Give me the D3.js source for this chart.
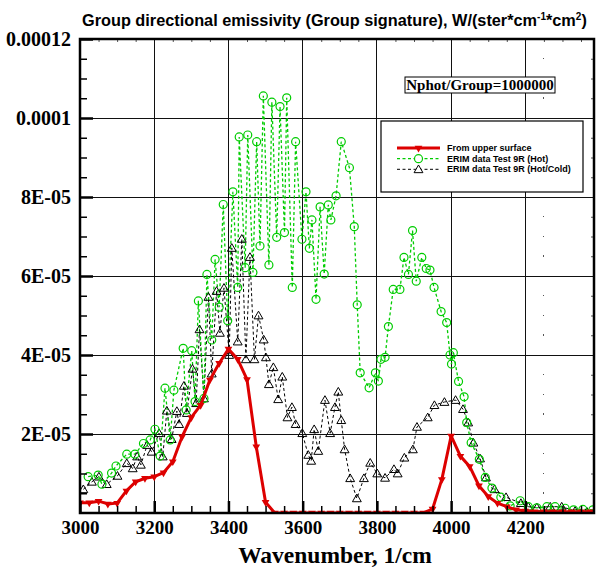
<!DOCTYPE html>
<html>
<head>
<meta charset="utf-8">
<script src="https://cdn.jsdelivr.net/npm/d3@7"></script>
<style>
  body { margin: 0; background: #fff; }
  svg { display: block; }
</style>
</head>
<body>
<svg></svg>
<script>
// values are in units of 1E-05 W/(ster*cm-1*cm2)
const redWn = [3000, 3025, 3050, 3075, 3100, 3125, 3150, 3175, 3200, 3225, 3250, 3275, 3300, 3325, 3350, 3375, 3400, 3425, 3450, 3475,
  3500, 3525, 3550, 3575, 3600, 3625, 3650, 3675, 3700, 3725, 3750, 3775, 3800, 3825, 3850, 3875, 3900, 3925, 3950, 3975,
  4000, 4025, 4050, 4075, 4100, 4125, 4150, 4175, 4200, 4225, 4250, 4275, 4300, 4325, 4350, 4375];
const redVal = [0.26, 0.26, 0.30, 0.23, 0.25, 0.56, 0.79, 0.88, 0.92, 1.02, 1.30, 1.93, 2.42, 2.73, 3.37, 3.79, 4.15, 3.89, 3.38, 1.68,
  0.27, 0, 0, 0, 0, 0, 0, 0, 0, 0, 0, 0, 0, 0, 0, 0, 0, 0, 0.10, 0.85,
  1.95, 1.44, 1.18, 0.69, 0.42, 0.25, 0.16, 0.08, 0.05, 0.03, 0.03, 0.03, 0.03, 0.03, 0.03, 0.03];

const hotWn = [3022, 3049, 3059, 3085, 3097, 3126, 3148, 3171, 3189, 3202, 3216, 3229, 3243, 3253, 3278, 3286, 3301, 3310, 3319, 3334,
  3342, 3355, 3364, 3375, 3386, 3398, 3412, 3425, 3429, 3445, 3452, 3466, 3476, 3485, 3494, 3509, 3517, 3530, 3539, 3551,
  3557, 3572, 3581, 3598, 3609, 3618, 3625, 3636, 3647, 3658, 3669, 3676, 3690, 3704, 3726, 3739, 3747, 3755, 3779, 3796,
  3804, 3811, 3822, 3831, 3844, 3862, 3873, 3885, 3896, 3906, 3921, 3933, 3943, 3954, 3973, 3988, 3997, 4001, 4006, 4020,
  4035, 4042, 4054, 4076, 4092, 4110, 4134, 4159, 4186, 4208, 4231, 4258, 4280, 4307, 4330, 4355, 4382];
const hotVal = [0.92, 0.96, 0.73, 1.01, 1.19, 1.49, 1.49, 1.76, 1.85, 2.12, 1.44, 3.16, 1.85, 3.11, 4.17, 2.61, 4.11, 2.82, 5.37, 2.90,
  6.04, 4.38, 6.42, 5.21, 7.81, 4.87, 8.13, 5.71, 9.52, 6.21, 9.57, 6.09, 9.40, 6.76, 10.56, 6.28, 10.40, 6.98, 10.29, 7.10,
  10.51, 5.71, 9.40, 6.93, 8.13, 6.70, 7.42, 5.41, 7.75, 6.05, 7.80, 7.42, 8.03, 9.40, 8.74, 7.25, 5.27, 3.55, 3.17, 3.55,
  3.34, 3.89, 3.94, 4.72, 5.66, 5.66, 6.47, 6.04, 7.15, 5.87, 6.47, 6.19, 6.15, 5.71, 5.10, 4.82, 4.00, 3.77, 4.06, 3.33,
  2.94, 2.29, 1.78, 1.36, 0.90, 0.63, 0.40, 0.18, 0.31, 0.16, 0.13, 0.16, 0.16, 0.12, 0.08, 0.09, 0.08];

const coldWn = [3009, 3032, 3051, 3072, 3101, 3126, 3142, 3154, 3164, 3181, 3193, 3213, 3223, 3234, 3247, 3261, 3267, 3280, 3288, 3303,
  3313, 3322, 3334, 3346, 3355, 3368, 3377, 3388, 3402, 3409, 3425, 3436, 3447, 3458, 3470, 3481, 3495, 3501, 3509, 3521,
  3534, 3545, 3559, 3571, 3581, 3599, 3615, 3623, 3631, 3642, 3660, 3674, 3687, 3696, 3704, 3713, 3728, 3746, 3765, 3782,
  3801, 3822, 3846, 3856, 3874, 3897, 3908, 3937, 3955, 3982, 4012, 4032, 4046, 4060, 4078, 4094, 4117, 4148, 4188, 4208,
  4231, 4267, 4298, 4334, 4366];
const coldVal = [0.60, 0.79, 0.92, 0.73, 0.94, 1.26, 1.13, 1.43, 1.22, 1.72, 1.55, 2.02, 1.43, 2.59, 1.87, 2.58, 2.25, 3.22, 2.53, 3.65,
  2.78, 4.65, 2.90, 5.47, 3.53, 5.62, 4.56, 5.70, 4.00, 6.71, 4.34, 6.94, 3.89, 6.48, 3.89, 5.00, 4.39, 3.94, 3.26, 3.69,
  2.88, 3.45, 2.42, 2.68, 2.25, 2.02, 1.47, 1.32, 2.12, 1.57, 2.86, 2.02, 2.68, 3.07, 2.35, 1.61, 0.88, 0.37, 0.88, 1.27,
  1.00, 0.89, 1.11, 1.00, 1.40, 1.61, 2.18, 2.42, 2.73, 2.81, 2.86, 2.63, 2.29, 1.78, 1.38, 0.90, 0.60, 0.40, 0.25, 0.16,
  0.14, 0.16, 0.16, 0.05, 0.03];

const xTickLabels = ["3000", "3200", "3400", "3600", "3800", "4000", "4200"];
const yTickValues = [2, 4, 6, 8, 10, 12];
const yTickLabels = ["2E-05", "4E-05", "6E-05", "8E-05", "0.0001", "0.00012"];
const seriesNames = ["From upper surface", "ERIM data Test 9R (Hot)", "ERIM data Test 9R (Hot/Cold)"];

const width = 596, height = 567;
const pLeft = 80, pRight = 594, pTop = 39, pBottom = 513;
const red = "#dd0000", green = "#00cc00", serif = "'Liberation Serif', 'Times New Roman', serif",
  sans = "'Liberation Sans', Arial, sans-serif";

const svg = d3.select("svg").attr("width", width).attr("height", height);

const x = d3.scaleLinear().domain([3000, 4385]).range([pLeft, pRight]);
const y = d3.scaleLinear().domain([0, 12]).range([pBottom, pTop]);

const xTicks = xTickLabels.map(Number);
const xMinor = d3.range(3050, 4385, 50).filter(d => d % 200 !== 0);
const yMinor = d3.range(0.5, 12, 0.5).filter(d => d % 2 !== 0);

svg.append("defs").append("clipPath").attr("id", "plot")
  .append("rect").attr("x", pLeft).attr("y", pTop).attr("width", pRight - pLeft).attr("height", pBottom - pTop);

// grid
const grid = svg.append("g").attr("shape-rendering", "crispEdges");
grid.selectAll(".vx").data(xTicks.slice(1)).enter().append("line")
  .attr("x1", d => x(d)).attr("x2", d => x(d)).attr("y1", pTop).attr("y2", pBottom)
  .attr("stroke", "#111").attr("stroke-width", 1);
grid.selectAll(".hy").data(yTickValues.slice(0, -1)).enter().append("line")
  .attr("x1", pLeft).attr("x2", pRight).attr("y1", d => y(d)).attr("y2", d => y(d))
  .attr("stroke", "#111").attr("stroke-width", 1);

// stray dotted column of the original
grid.selectAll(".dot").data(yMinor).enter().append("rect")
  .attr("x", x(4250) - 1).attr("y", d => y(d) - 1).attr("width", 1.5).attr("height", 1.5).attr("fill", "#555");

// data
const plot = svg.append("g").attr("clip-path", "url(#plot)");

const redPts = redWn.map((w, i) => [w, redVal[i]]);
const hotPts = hotWn.map((w, i) => [w, hotVal[i]]);
const coldPts = coldWn.map((w, i) => [w, coldVal[i]]);
const line = d3.line().x(d => x(d[0])).y(d => y(d[1]));

plot.append("path").datum(coldPts).attr("d", line)
  .attr("fill", "none").attr("stroke", "#000").attr("stroke-width", 1).attr("stroke-dasharray", "3,2.5");
plot.append("path").datum(hotPts).attr("d", line)
  .attr("fill", "none").attr("stroke", green).attr("stroke-width", 1.3).attr("stroke-dasharray", "3,2.5");

const tri = d3.symbol().type(d3.symbolTriangle).size(34);
plot.selectAll(".cold").data(coldPts).enter().append("path")
  .attr("d", tri).attr("transform", d => `translate(${x(d[0])},${y(d[1]) + 0.8})`)
  .attr("fill", "none").attr("stroke", "#000").attr("stroke-width", 1);
plot.selectAll(".hot").data(hotPts).enter().append("circle")
  .attr("cx", d => x(d[0])).attr("cy", d => y(d[1])).attr("r", 4)
  .attr("fill", "none").attr("stroke", green).attr("stroke-width", 1.2);

plot.append("path").datum(redPts).attr("d", line)
  .attr("fill", "none").attr("stroke", red).attr("stroke-width", 3).attr("stroke-linejoin", "round");
const downTri = d3.symbol().type(d3.symbolTriangle).size(26);
plot.selectAll(".red").data(redPts).enter().append("path")
  .attr("d", downTri).attr("transform", d => `translate(${x(d[0])},${y(d[1])}) rotate(180)`)
  .attr("fill", red);

// axes
function styleAxis(g, w, fs) {
  g.select(".domain").remove();
  g.selectAll("line").attr("stroke", "#000").attr("stroke-width", w);
  g.selectAll("text").attr("font-family", serif).attr("font-weight", "bold").attr("font-size", fs).attr("fill", "#000");
}
svg.append("g").attr("transform", `translate(0,${pBottom})`)
  .call(d3.axisBottom(x).tickValues(xMinor).tickSize(-7).tickFormat(""))
  .call(g => styleAxis(g, 1.5, 19));
svg.append("g").attr("transform", `translate(0,${pBottom})`)
  .call(d3.axisBottom(x).tickValues(xTicks).tickSize(-12).tickPadding(8).tickFormat((d, i) => xTickLabels[i]))
  .call(g => styleAxis(g, 2.5, 19));
svg.append("g").attr("transform", `translate(${pLeft},0)`)
  .call(d3.axisLeft(y).tickValues(yMinor).tickSize(-7).tickFormat(""))
  .call(g => styleAxis(g, 1.5, 20));
svg.append("g").attr("transform", `translate(${pLeft},0)`)
  .call(d3.axisLeft(y).tickValues(yTickValues).tickSize(-13).tickPadding(9).tickFormat((d, i) => yTickLabels[i]))
  .call(g => styleAxis(g, 2.5, 20));
svg.append("g").attr("transform", `translate(0,${pTop})`)
  .call(d3.axisTop(x).tickValues(xMinor).tickSize(-3).tickFormat(""))
  .call(g => { g.select(".domain").remove(); g.selectAll("line").attr("stroke", "#555").attr("stroke-width", 1); });
svg.append("g").attr("transform", `translate(${pRight},0)`)
  .call(d3.axisRight(y).tickValues(yMinor).tickSize(-3).tickFormat(""))
  .call(g => { g.select(".domain").remove(); g.selectAll("line").attr("stroke", "#555").attr("stroke-width", 1); });

svg.append("rect").attr("x", pLeft).attr("y", pTop).attr("width", pRight - pLeft).attr("height", pBottom - pTop)
  .attr("fill", "none").attr("stroke", "#000").attr("stroke-width", 2.5);

// Nphot label
svg.append("rect").attr("x", 405).attr("y", 77).attr("width", 150).attr("height", 16)
  .attr("fill", "#fff").attr("stroke", "#000").attr("stroke-width", 1);
svg.append("text").attr("x", 480).attr("y", 85).attr("dy", "0.35em").attr("text-anchor", "middle")
  .attr("font-family", serif).attr("font-weight", "bold").attr("font-size", 15)
  .text("Nphot/Group=1000000");

// legend
const lg = svg.append("g");
lg.append("rect").attr("x", 381).attr("y", 121).attr("width", 202).attr("height", 71)
  .attr("fill", "#fff").attr("stroke", "#000").attr("stroke-width", 1.2);
const rows = [148, 158.7, 169.3];
const lx1 = 397, lx2 = 440, lmid = (lx1 + lx2) / 2;
lg.append("line").attr("x1", lx1).attr("x2", lx2).attr("y1", rows[0]).attr("y2", rows[0])
  .attr("stroke", red).attr("stroke-width", 3);
lg.append("path").attr("d", downTri).attr("transform", `translate(${lmid},${rows[0]}) rotate(180)`).attr("fill", red);
lg.append("line").attr("x1", lx1).attr("x2", lx2).attr("y1", rows[1]).attr("y2", rows[1])
  .attr("stroke", green).attr("stroke-width", 1.2).attr("stroke-dasharray", "3,2.5");
lg.append("circle").attr("cx", lmid).attr("cy", rows[1]).attr("r", 4)
  .attr("fill", "#fff").attr("stroke", green).attr("stroke-width", 1.2);
lg.append("line").attr("x1", lx1).attr("x2", lx2).attr("y1", rows[2]).attr("y2", rows[2])
  .attr("stroke", "#000").attr("stroke-width", 1).attr("stroke-dasharray", "3,2.5");
lg.append("path").attr("d", tri).attr("transform", `translate(${lmid},${rows[2] + 0.8})`)
  .attr("fill", "#fff").attr("stroke", "#000").attr("stroke-width", 1);
lg.selectAll("text").data(seriesNames).enter().append("text")
  .attr("x", 447).attr("y", (d, i) => rows[i]).attr("dy", "0.35em")
  .attr("font-family", sans).attr("font-weight", "bold").attr("font-size", 9)
  .text(d => d);

// titles
const title = svg.append("text").attr("x", 82).attr("y", 26)
  .attr("font-family", sans).attr("font-weight", "bold").attr("font-size", 16.3);
title.append("tspan").text("Group directional emissivity (Group signature), W/(ster*cm");
title.append("tspan").attr("font-size", 10).attr("dy", -6).text("-1");
title.append("tspan").attr("dy", 6).text("*cm");
title.append("tspan").attr("font-size", 10).attr("dy", -6).text("2");
title.append("tspan").attr("dy", 6).text(")");

svg.append("text").attr("x", (pLeft + pRight) / 2 - 2).attr("y", 563).attr("text-anchor", "middle")
  .attr("font-family", serif).attr("font-weight", "bold").attr("font-size", 23.5)
  .text("Wavenumber, 1/cm");
</script>
</body>
</html>
